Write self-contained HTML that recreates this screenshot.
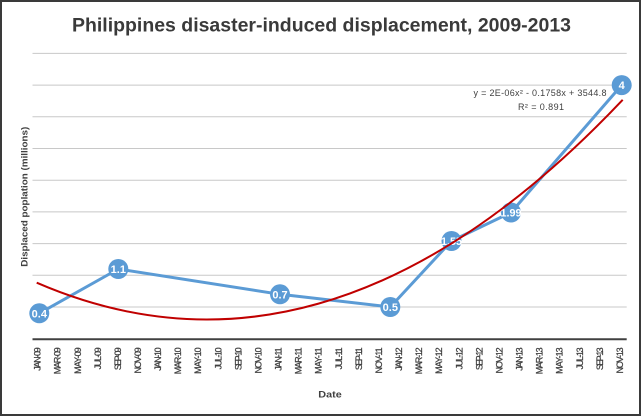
<!DOCTYPE html>
<html>
<head>
<meta charset="utf-8">
<style>
html,body{margin:0;padding:0;background:#fff;}
body{width:642px;height:418px;overflow:hidden;}
svg{display:block;}
text{font-family:"Liberation Sans",sans-serif;}
</style>
</head>
<body>
<svg width="642" height="418" viewBox="0 0 642 418" xmlns="http://www.w3.org/2000/svg">
<rect x="0" y="0" width="642" height="418" fill="#fff"/>
<rect x="1" y="1" width="639" height="414" fill="none" stroke="#3a3a3a" stroke-width="2"/>

<!-- title -->
<text x="321.5" y="31.7" text-anchor="middle" font-size="19.5" font-weight="bold" fill="#3a3a3a" textLength="499" lengthAdjust="spacingAndGlyphs">Philippines disaster-induced displacement, 2009-2013</text>

<!-- gridlines -->
<g stroke="#c8c8c8" stroke-width="1">
<line x1="32.5" y1="307" x2="626.7" y2="307"/>
<line x1="32.5" y1="275.3" x2="626.7" y2="275.3"/>
<line x1="32.5" y1="243.6" x2="626.7" y2="243.6"/>
<line x1="32.5" y1="211.9" x2="626.7" y2="211.9"/>
<line x1="32.5" y1="180.2" x2="626.7" y2="180.2"/>
<line x1="32.5" y1="148.5" x2="626.7" y2="148.5"/>
<line x1="32.5" y1="116.8" x2="626.7" y2="116.8"/>
<line x1="32.5" y1="85.1" x2="626.7" y2="85.1"/>
<line x1="32.5" y1="53.4" x2="626.7" y2="53.4"/>
</g>
<!-- axis -->
<line x1="32.5" y1="339.3" x2="626.7" y2="339.3" stroke="#404040" stroke-width="2"/>

<!-- x labels -->
<g font-size="9" fill="#404040" stroke="#404040" stroke-width="0.25" text-anchor="end" lengthAdjust="spacingAndGlyphs">
<text transform="translate(40.6,347.3) rotate(-90)" textLength="23.5">JAN-09</text>
<text transform="translate(60.7,347.3) rotate(-90)" textLength="27">MAR-09</text>
<text transform="translate(80.8,347.3) rotate(-90)" textLength="26.6">MAY-09</text>
<text transform="translate(100.8,347.3) rotate(-90)" textLength="22.1">JUL-09</text>
<text transform="translate(120.9,347.3) rotate(-90)" textLength="22.8">SEP-09</text>
<text transform="translate(141.0,347.3) rotate(-90)" textLength="26.2">NOV-09</text>
<text transform="translate(161.1,347.3) rotate(-90)" textLength="23.5">JAN-10</text>
<text transform="translate(181.2,347.3) rotate(-90)" textLength="27">MAR-10</text>
<text transform="translate(201.2,347.3) rotate(-90)" textLength="26.6">MAY-10</text>
<text transform="translate(221.3,347.3) rotate(-90)" textLength="22.1">JUL-10</text>
<text transform="translate(241.4,347.3) rotate(-90)" textLength="22.8">SEP-10</text>
<text transform="translate(261.5,347.3) rotate(-90)" textLength="26.2">NOV-10</text>
<text transform="translate(281.6,347.3) rotate(-90)" textLength="23.5">JAN-11</text>
<text transform="translate(301.6,347.3) rotate(-90)" textLength="27">MAR-11</text>
<text transform="translate(321.7,347.3) rotate(-90)" textLength="26.6">MAY-11</text>
<text transform="translate(341.8,347.3) rotate(-90)" textLength="22.1">JUL-11</text>
<text transform="translate(361.9,347.3) rotate(-90)" textLength="22.8">SEP-11</text>
<text transform="translate(382.0,347.3) rotate(-90)" textLength="26.2">NOV-11</text>
<text transform="translate(402.0,347.3) rotate(-90)" textLength="23.5">JAN-12</text>
<text transform="translate(422.1,347.3) rotate(-90)" textLength="27">MAR-12</text>
<text transform="translate(442.2,347.3) rotate(-90)" textLength="26.6">MAY-12</text>
<text transform="translate(462.3,347.3) rotate(-90)" textLength="22.1">JUL-12</text>
<text transform="translate(482.4,347.3) rotate(-90)" textLength="22.8">SEP-12</text>
<text transform="translate(502.4,347.3) rotate(-90)" textLength="26.2">NOV-12</text>
<text transform="translate(522.5,347.3) rotate(-90)" textLength="23.5">JAN-13</text>
<text transform="translate(542.6,347.3) rotate(-90)" textLength="27">MAR-13</text>
<text transform="translate(562.7,347.3) rotate(-90)" textLength="26.6">MAY-13</text>
<text transform="translate(582.8,347.3) rotate(-90)" textLength="22.1">JUL-13</text>
<text transform="translate(602.8,347.3) rotate(-90)" textLength="22.8">SEP-13</text>
<text transform="translate(622.9,347.3) rotate(-90)" textLength="26.2">NOV-13</text>
</g>

<!-- axis titles -->
<text x="330" y="397.3" text-anchor="middle" font-size="9.5" font-weight="bold" fill="#404040" textLength="23.4" lengthAdjust="spacingAndGlyphs">Date</text>
<text transform="translate(27.5,196.7) rotate(-90)" text-anchor="middle" font-size="9" font-weight="bold" fill="#404040" textLength="140" lengthAdjust="spacingAndGlyphs">Displaced poplation (millions)</text>

<!-- blue series -->
<polyline points="39.3,313.3 118.3,269 280,294.3 390.3,307 451.5,241 511,212.5 621.7,85.1" fill="none" stroke="#5b9bd5" stroke-width="3" stroke-linejoin="round"/>
<g fill="#5b9bd5">
<circle cx="39.3" cy="313.3" r="10"/>
<circle cx="118.3" cy="269" r="10"/>
<circle cx="280" cy="294.3" r="10"/>
<circle cx="390.3" cy="307" r="10"/>
<circle cx="451.5" cy="241" r="10"/>
<circle cx="511" cy="212.5" r="10"/>
<circle cx="621.7" cy="85.1" r="10"/>
</g>
<g fill="#ffffff" font-size="11" font-weight="bold" text-anchor="middle">
<text x="39.3" y="317.3">0.4</text>
<text x="118.3" y="273">1.1</text>
<text x="280" y="298.3">0.7</text>
<text x="390.3" y="311">0.5</text>
<text x="451.5" y="245" textLength="21" lengthAdjust="spacingAndGlyphs">1.55</text>
<text x="511" y="216.5" textLength="21" lengthAdjust="spacingAndGlyphs">1.99</text>
<text x="621.7" y="89.1">4</text>
</g>

<!-- trend line -->
<path d="M36.7,282.7 Q329.7,409.4 622.7,99.8" fill="none" stroke="#c00000" stroke-width="2"/>

<!-- equation -->
<g font-size="9" fill="#404040" text-anchor="middle" lengthAdjust="spacingAndGlyphs">
<text x="540" y="96" textLength="133">y = 2E-06x² - 0.1758x + 3544.8</text>
<text x="541" y="110" textLength="46">R² = 0.891</text>
</g>
</svg>
</body>
</html>
